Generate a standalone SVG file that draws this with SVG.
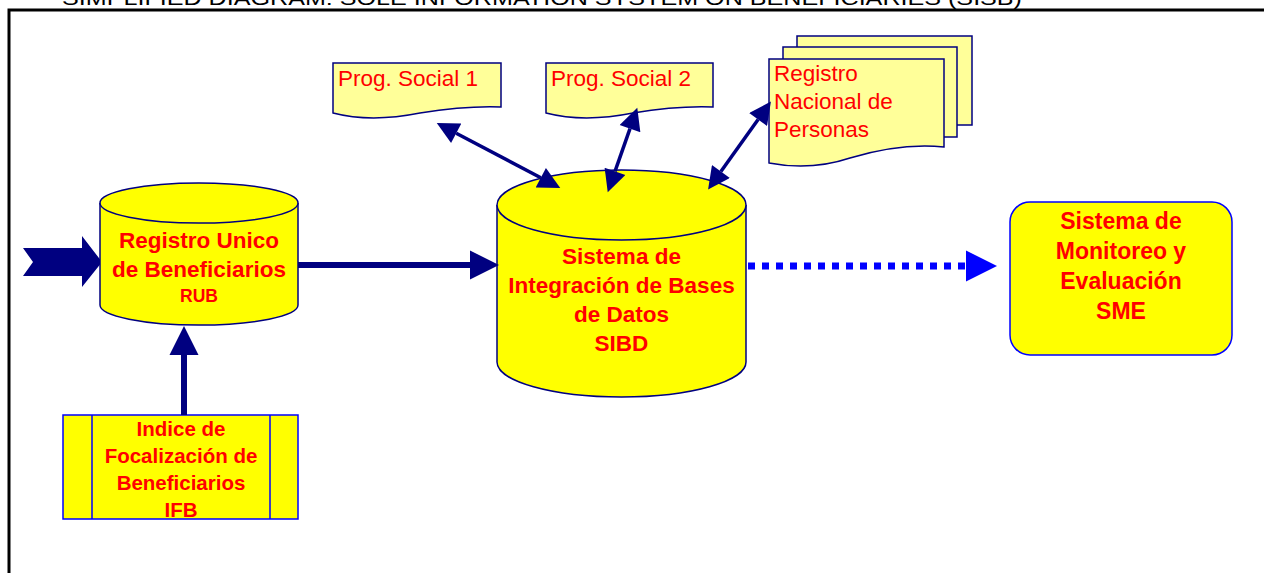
<svg xmlns="http://www.w3.org/2000/svg" width="1264" height="573" viewBox="0 0 1264 573">
<style>
.t{font-family:"Liberation Sans",Arial,sans-serif;fill:#FF0000}
.b{font-weight:bold;text-anchor:middle}
.cyl{fill:#FFFF00;stroke:#000080;stroke-width:1.5}
.doc{fill:#FFFF99;stroke:#000080;stroke-width:1.5}
.nav{stroke:#000080;fill:none}
</style>
<defs>
<marker id="ahs" viewBox="0 0 10 10" refX="0" refY="5" markerUnits="userSpaceOnUse" markerWidth="24" markerHeight="22" orient="auto-start-reverse"><path d="M0,0 L10,5 L0,10 z" fill="#000080"/></marker>
<marker id="ahb" viewBox="0 0 10 10" refX="0" refY="5" markerUnits="userSpaceOnUse" markerWidth="29" markerHeight="31" orient="auto"><path d="M0,0 L10,5 L0,10 z" fill="#000080"/></marker>
<marker id="ahd" viewBox="0 0 10 10" refX="0" refY="5" markerUnits="userSpaceOnUse" markerWidth="31" markerHeight="32" orient="auto"><path d="M0,0 L10,5 L0,10 z" fill="#0000FF"/></marker>
</defs>
<rect width="1264" height="573" fill="#FFFFFF"/>
<text x="62" y="5" font-family="Liberation Sans, Arial, sans-serif" font-size="20" fill="#000000" textLength="960" lengthAdjust="spacingAndGlyphs">SIMPLIFIED DIAGRAM: SOLE INFORMATION SYSTEM ON BENEFICIARIES (SISB)</text>
<path d="M9,573 V10 H1264" fill="none" stroke="#000000" stroke-width="3"/>

<g id="input-arrow">
<path d="M23,248 H82 V236 L102,262 L82,287 V276 H23 L33,262 Z" fill="#000080"/>
</g>

<g id="rub">
<path class="cyl" d="M100,203 V305 A99,20 0 0 0 298,305 V203"/>
<ellipse class="cyl" cx="199" cy="203" rx="99" ry="20"/>
<text class="t b" x="199" y="248" font-size="22.5">Registro Unico</text>
<text class="t b" x="199" y="277" font-size="22.5">de Beneficiarios</text>
<text class="t b" x="199" y="302" font-size="17.5">RUB</text>
</g>

<g id="ifb">
<rect x="63" y="415" width="235" height="104" fill="#FFFF00" stroke="#0000FF" stroke-width="1.5"/>
<line x1="92" y1="415" x2="92" y2="519" stroke="#0000FF" stroke-width="1.5"/>
<line x1="270" y1="415" x2="270" y2="519" stroke="#0000FF" stroke-width="1.5"/>
<text class="t b" x="181" y="436" font-size="20.5">Indice de</text>
<text class="t b" x="181" y="463" font-size="20.5">Focalización de</text>
<text class="t b" x="181" y="490" font-size="20.5">Beneficiarios</text>
<text class="t b" x="181" y="517" font-size="20.5">IFB</text>
</g>

<g id="prog1">
<path class="doc" d="M333,63 H501 V107 C475,106 445,109 420,113 C390,119 360,120 333,113 Z"/>
<text class="t" x="338" y="86" font-size="22.5">Prog. Social 1</text>
</g>

<g id="prog2">
<path class="doc" d="M546,63 H713 V107 C687,106 657,109 633,113 C603,119 573,120 546,113 Z"/>
<text class="t" x="551" y="86" font-size="22.5">Prog. Social 2</text>
</g>

<g id="rnp">
<path class="doc" d="M797,36 H972 V125 H797 Z"/>
<path class="doc" d="M783,47 H957 V137 H783 Z"/>
<path class="doc" d="M769,59 H944 V147 C915,144 880,149 850,158 C820,168 795,168 769,163 Z"/>
<text class="t" x="774" y="81" font-size="22.5">Registro</text>
<text class="t" x="774" y="109" font-size="22.5">Nacional de</text>
<text class="t" x="774" y="137" font-size="22.5">Personas</text>
</g>

<g id="sibd">
<path class="cyl" d="M497,205 V362 A124.5,35 0 0 0 746,362 V205"/>
<ellipse class="cyl" cx="621.5" cy="205" rx="124.5" ry="35"/>
<text class="t b" x="621.5" y="264" font-size="22.5">Sistema de</text>
<text class="t b" x="621.5" y="293" font-size="22.5">Integración de Bases</text>
<text class="t b" x="621.5" y="322" font-size="22.5">de Datos</text>
<text class="t b" x="621.5" y="351" font-size="22.5">SIBD</text>
</g>

<g id="sme">
<rect x="1010" y="202" width="222" height="153" rx="20" ry="20" fill="#FFFF00" stroke="#0000FF" stroke-width="1.5"/>
<text class="t b" x="1121" y="229" font-size="23">Sistema de</text>
<text class="t b" x="1121" y="259" font-size="23">Monitoreo y</text>
<text class="t b" x="1121" y="289" font-size="23">Evaluación</text>
<text class="t b" x="1121" y="319" font-size="23">SME</text>
</g>

<g id="connectors">
<line class="nav" x1="456.2" y1="133.2" x2="540.8" y2="177.8" stroke-width="3.5" marker-start="url(#ahs)" marker-end="url(#ahs)"/>
<line class="nav" x1="630" y1="128.6" x2="615" y2="171.4" stroke-width="3.5" marker-start="url(#ahs)" marker-end="url(#ahs)"/>
<line class="nav" x1="758.1" y1="119.5" x2="720.9" y2="171.5" stroke-width="3.5" marker-start="url(#ahs)" marker-end="url(#ahs)"/>
<line class="nav" x1="298" y1="265" x2="470" y2="265" stroke-width="6" marker-end="url(#ahb)"/>
<line class="nav" x1="184" y1="415" x2="184" y2="355" stroke-width="6" marker-end="url(#ahb)"/>
<line x1="748" y1="266" x2="966" y2="266" stroke="#0000FF" stroke-width="7" stroke-dasharray="7 7" marker-end="url(#ahd)"/>
</g>
</svg>
